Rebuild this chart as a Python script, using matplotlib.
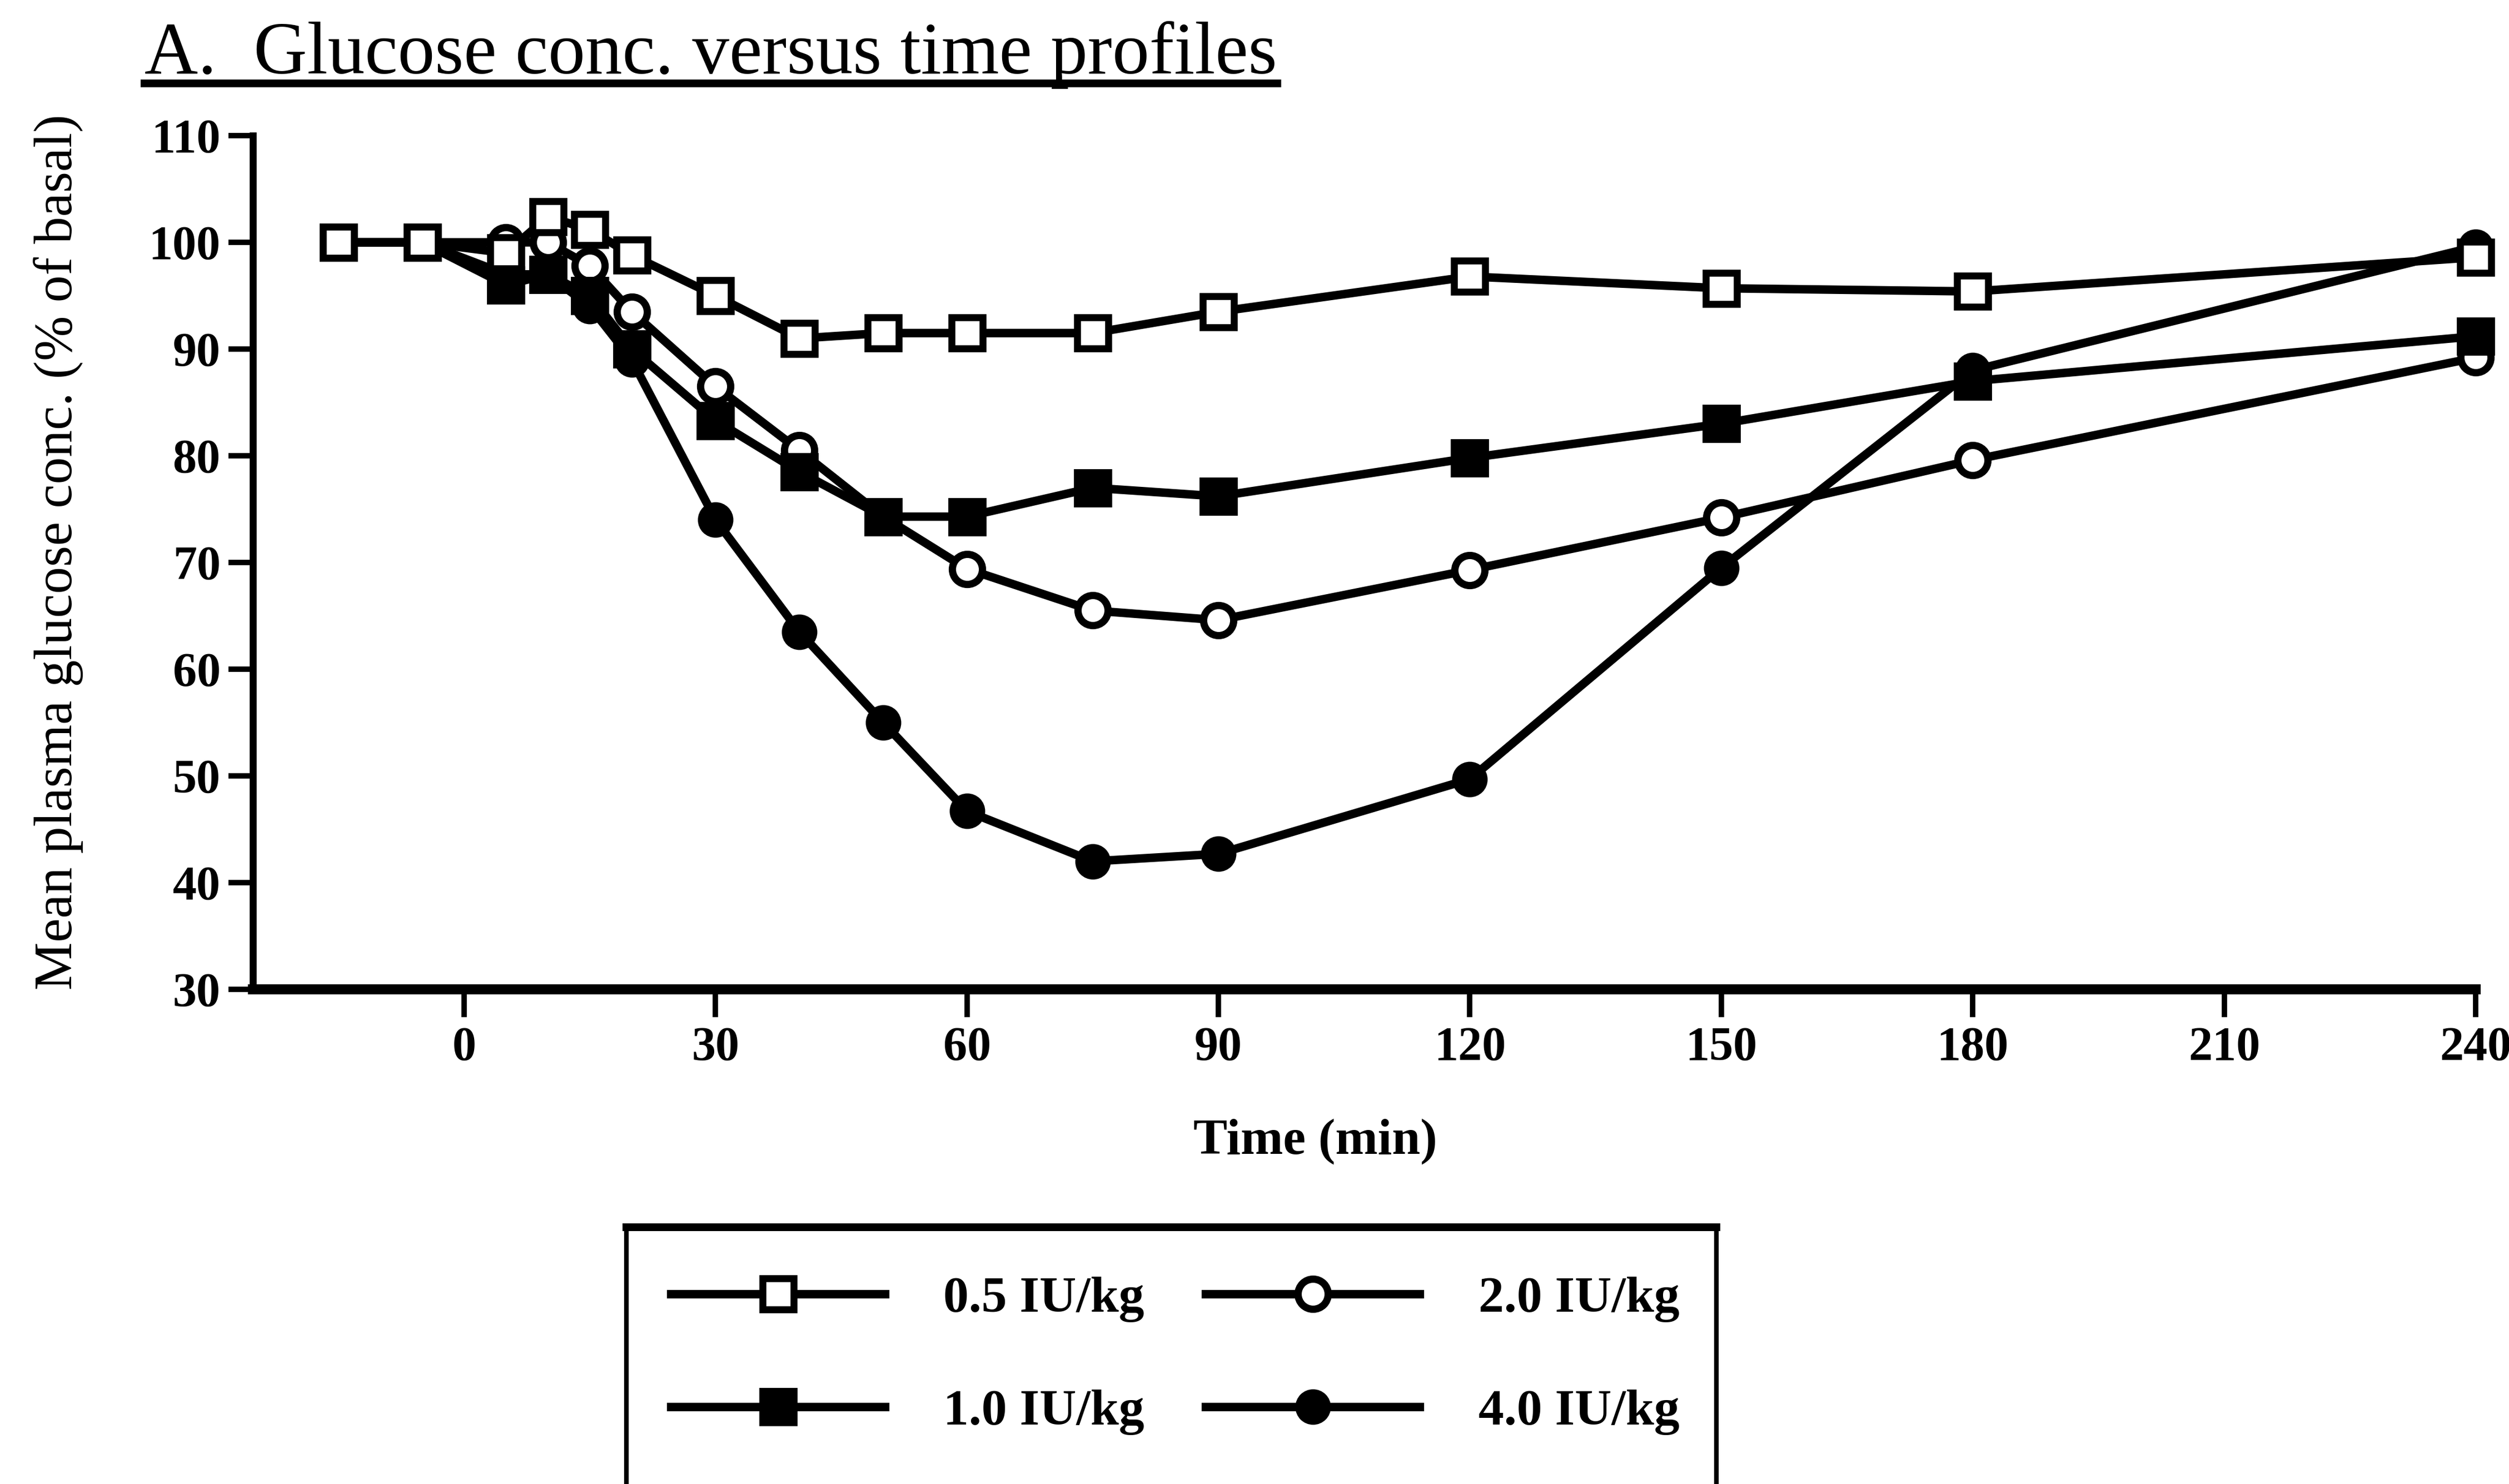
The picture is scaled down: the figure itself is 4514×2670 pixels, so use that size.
import matplotlib
matplotlib.use("Agg")
import matplotlib.pyplot as plt
from matplotlib.lines import Line2D
from matplotlib.patches import Rectangle

plt.rcParams['font.family'] = ['Liberation Serif', 'DejaVu Serif']

# time points (min) and mean glucose (% of basal) per insulin dose
times = [-15, -5, 5, 10, 15, 20, 30, 40, 50, 60, 75, 90, 120, 150, 180, 240]
dose_05 = [100, 100, 99, 102.4, 101.2, 98.8, 95, 91, 91.5, 91.5, 91.5, 93.5, 96.8, 95.7, 95.4, 98.6]
dose_10 = [100, 100, 96, 97, 95, 90, 83.3, 78.5, 74.3, 74.3, 77, 76.2, 79.8, 83, 87, 91.2]
dose_20 = [100, 100, 100, 100, 97.8, 93.5, 86.5, 80.5, 74.3, 69.4, 65.5, 64.6, 69.3, 74.2, 79.6, 89.2]
dose_40 = [100, 100, 97, 97, 94, 89, 74, 63.5, 55, 46.7, 42, 42.7, 49.7, 69.5, 88, 99.6]

labels = ['0.5 IU/kg', '1.0 IU/kg', '2.0 IU/kg', '4.0 IU/kg']
x_ticks = [0, 30, 60, 90, 120, 150, 180, 210, 240]
y_ticks = [30, 40, 50, 60, 70, 80, 90, 100, 110]

fig = plt.figure(figsize=(22.57, 13.35), dpi=200)
ax = fig.add_axes([0.1008, 0.3333, 0.8859, 0.5753])

lw = 5.5
l40, = ax.plot(times, dose_40, '-o', color='black', lw=lw, ms=22, mfc='black',
               mec='black', mew=1, zorder=2, clip_on=False)
l20, = ax.plot(times, dose_20, '-o', color='black', lw=lw, ms=19.5, mfc='white',
               mec='black', mew=4.7, zorder=3, clip_on=False)
l10, = ax.plot(times, dose_10, '-s', color='black', lw=lw, ms=24, mfc='black',
               mec='black', mew=1, zorder=4, clip_on=False)
l05, = ax.plot(times, dose_05, '-s', color='black', lw=lw, ms=20, mfc='white',
               mec='black', mew=4.5, zorder=5, clip_on=False)

ax.set_xlim(-25.2, 240)
ax.set_ylim(30, 110)
ax.set_xticks(x_ticks)
ax.set_yticks(y_ticks)
for s in ['top', 'right']:
    ax.spines[s].set_visible(False)
ax.spines['left'].set_linewidth(4.5)
ax.spines['bottom'].set_linewidth(6.5)
ax.tick_params(axis='y', direction='out', length=16, width=3.5, pad=5)
ax.tick_params(axis='x', direction='out', length=18, width=3.5, pad=6)
for t in ax.get_xticklabels() + ax.get_yticklabels():
    t.set_fontsize(31)
    t.set_fontweight('bold')

ax.set_xlabel('Time (min)', fontsize=33, fontweight='bold')
ax.xaxis.set_label_coords(0.478, -0.151)
ax.set_ylabel('Mean plasma glucose conc. (% of basal)', fontsize=35)
ax.yaxis.set_label_coords(-0.0763, 0.512)

title = fig.text(0.0576, 0.9506, 'A.  Glucose conc. versus time profiles',
                 fontsize=48, va='baseline', ha='left')

# legend with a box that runs off the bottom of the page
fig.legend([l05, l10, l20, l40], labels, ncol=2, frameon=False,
           loc='center left', bbox_to_anchor=(0.2674, 0.0865),
           prop={'weight': 'bold', 'size': 33},
           handlelength=4.2, handletextpad=1.15, columnspacing=1.2,
           labelspacing=1.3, borderpad=0, borderaxespad=0, numpoints=1)
box_l, box_r, box_t = 0.2497, 0.6841, 0.173
fig.patches.append(Rectangle((box_l, -0.1), box_r - box_l, box_t + 0.1,
                             transform=fig.transFigure, fill=False,
                             lw=3, ec='black'))
fig.lines.append(Line2D([box_l, box_r], [box_t, box_t], transform=fig.transFigure,
                        lw=5, color='black'))

# underline for the title
fig.canvas.draw()
bb = title.get_window_extent().transformed(fig.transFigure.inverted())
fig.lines.append(Line2D([bb.x0, bb.x1], [0.9438, 0.9438], transform=fig.transFigure,
                        lw=5, color='black'))

fig.savefig('out.png', dpi=200)
